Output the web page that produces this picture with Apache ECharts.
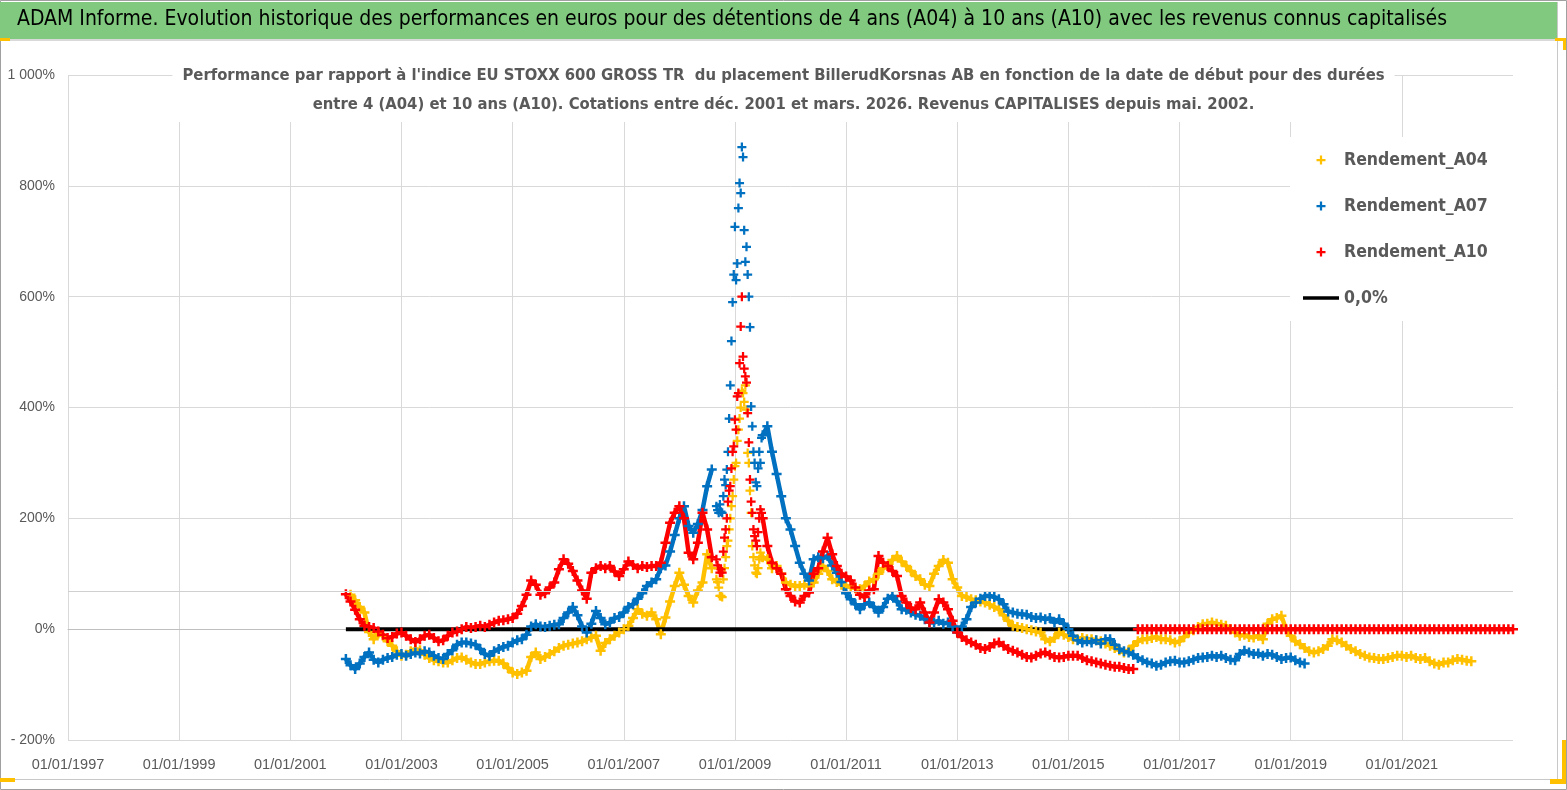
<!DOCTYPE html>
<html>
<head>
<meta charset="utf-8">
<title>BillerudKorsnas AB - Rendements A04 A07 A10</title>
<script src="https://cdn.jsdelivr.net/npm/echarts@6/dist/echarts.min.js"></script>
<style>
  html, body { margin: 0; padding: 0; background: #fff; }
  #chart { width: 1567px; height: 790px; }
</style>
</head>
<body>
<div id="chart"></div>
<script>
// x values are months counted from 01/01/1997, y values are performances in %

const xTickLabels = ['01/01/1997', '01/01/1999', '01/01/2001', '01/01/2003', '01/01/2005', '01/01/2007',
  '01/01/2009', '01/01/2011', '01/01/2013', '01/01/2015', '01/01/2017', '01/01/2019', '01/01/2021'];
const yTickLabels = ['- 200%', '0%', '200%', '400%', '600%', '800%', '1 000%'];
const seriesNames = ['Rendement_A04', 'Rendement_A07', 'Rendement_A10', '0,0%'];

// monthly values, the last one is dec. 2008
const a04Early = [
  62, 52, 40, 30, -5, -18, -8, -12, -22, -30,
  -40, -48, -46, -40, -36, -38, -46, -52, -56, -58,
  -60, -60, -56, -52, -51, -55, -60, -63, -63, -60,
  -58, -57, -57, -62, -70, -78, -81, -78, -75, -50,
  -42, -54, -50, -45, -40, -34, -30, -28, -26, -24,
  -22, -18, -15, -12, -39, -25, -18, -12, -6, 0,
  6, 20, 36, 28, 24, 30, 18, -9, 21, 50,
  78, 102, 80, 60, 48, 70, 84, 135, 110
];
const a07Early = [
  -54, -65, -72, -62, -50, -42, -55, -60, -55, -52,
  -50, -46, -45, -48, -45, -42, -44, -40, -42, -48,
  -52, -54, -45, -38, -28, -24, -24, -26, -28, -36,
  -45, -48, -40, -36, -32, -30, -24, -20, -18, -10,
  5, 9, 5, 4, 6, 8, 9, 20, 30, 40,
  25, 5, -6, 10, 33, 20, 9, 12, 20, 22,
  30, 40, 45, 55, 65, 78, 84, 90, 110, 115,
  140, 170, 200, 222, 186, 174, 190, 215, 258, 288
];
const a10Early = [
  63, 50, 35, 18, 6, 4, 2, -4, -10, -16,
  -14, -8, -6, -12, -18, -23, -18, -12, -10, -16,
  -22, -20, -12, -6, -4, 0, 4, 2, 4, 6,
  4, 8, 12, 15, 16, 18, 20, 28, 42, 62,
  88, 80, 62, 65, 75, 84, 108, 126, 118, 105,
  88, 70, 55, 102, 110, 114, 110, 114, 104, 96,
  108, 122, 116, 110, 114, 112, 114, 114, 120, 156,
  192, 210, 222, 200, 138, 126, 156, 210, 180, 130
];

// quarter-month values, sept. 2008 to june 2009
const a04Peak = [
  90, 85, 75, 60, 60, 58, 90, 110, 130, 150,
  160, 180, 200, 222, 240, 270, 294, 300, 340, 360,
  380, 400, 430, 426, 410, 440, 396, 318, 300, 250,
  210, 150, 130, 115, 102, 100, 110, 126, 138, 130
];
const a07Peak = [
  222, 215, 210, 225, 212, 210, 240, 270, 260, 288,
  320, 380, 440, 520, 590, 640, 726, 630, 660, 760,
  805, 787, 870, 852, 720, 663, 690, 640, 600, 545,
  402, 366, 320, 300, 265, 258, 290, 320, 300, 345
];
const a10Peak = [
  126, 115, 110, 102, 108, 102, 140, 165, 180, 200,
  230, 250, 258, 290, 320, 330, 378, 360, 420, 426,
  480, 546, 600, 492, 470, 456, 445, 390, 337, 270,
  230, 210, 180, 168, 160, 150, 175, 200, 216, 210
];

// monthly values from july 2009
const a04Late = [
  130, 126, 110, 114, 100, 84, 80, 78, 78, 80,
  78, 84, 100, 114, 105, 90, 85, 80, 78, 76,
  74, 72, 78, 86, 90, 100, 110, 114, 125, 132,
  122, 114, 105, 96, 90, 80, 78, 100, 114, 125,
  120, 90, 75, 60, 58, 54, 52, 50, 48, 44,
  40, 36, 25, 15, 6, 4, 2, 0, -2, -4,
  -6, -18, -22, -16, -6, -10, -14, -18, -18, -16,
  -18, -18, -20, -22, -26, -30, -34, -38, -42, -38,
  -30, -22, -18, -18, -16, -14, -18, -18, -20, -24,
  -22, -14, -6, -2, 4, 9, 10, 12, 10, 8,
  6, 0, -6, -12, -10, -14, -15, -12, -18, 10,
  18, 20, 24, 0, -12, -22, -27, -34, -40, -42,
  -40, -36, -30, -18, -20, -24, -30, -36, -40, -45,
  -48, -51, -52, -54, -54, -52, -50, -48, -48, -50,
  -48, -52, -54, -52, -58, -62, -64, -60, -60, -56,
  -54, -55, -57, -58
];
const a07Late = [
  350, 366, 320, 280, 240, 200, 180, 150, 120, 100,
  88, 126, 130, 128, 132, 115, 102, 85, 65, 54,
  45, 36, 45, 48, 40, 30, 40, 55, 60, 50,
  36, 35, 30, 26, 24, 18, 12, 12, 15, 10,
  12, 5, -6, 5, 18, 40, 48, 55, 60, 60,
  58, 54, 45, 32, 30, 28, 27, 26, 22, 20,
  21, 18, 20, 12, 18, 10, 0, -12, -20, -24,
  -22, -24, -20, -26, -18, -18, -28, -36, -40, -42,
  -46, -52, -56, -60, -62, -66, -64, -60, -58, -57,
  -60, -60, -58, -55, -52, -51, -50, -48, -50, -48,
  -52, -55, -56, -45, -39, -42, -45, -44, -48, -45,
  -46, -50, -54, -52, -51, -56, -60, -62
];
const a10Late = [
  200, 150, 120, 110, 100, 72, 60, 50, 48, 60,
  66, 100, 110, 140, 165, 135, 114, 100, 95, 88,
  75, 62, 58, 70, 72, 132, 120, 114, 105, 96,
  60, 48, 38, 36, 48, 30, 12, 30, 54, 48,
  36, 15, -6, -14, -20, -24, -28, -34, -36, -32,
  -26, -24, -30, -36, -39, -42, -46, -50, -51, -48,
  -44, -42, -46, -50, -51, -50, -48, -48, -48, -52,
  -56, -58, -60, -62, -64, -66, -68, -68, -70, -72,
  -72
];
// A10 reported at 0 from april 2016
const a10Zero = [
  0, 0, 0, 0, 0, 0, 0, 0, 0, 0,
  0, 0, 0, 0, 0, 0, 0, 0, 0, 0,
  0, 0, 0, 0, 0, 0, 0, 0, 0, 0,
  0, 0, 0, 0, 0, 0, 0, 0, 0, 0,
  0, 0, 0, 0, 0, 0, 0, 0, 0, 0,
  0, 0, 0, 0, 0, 0, 0, 0, 0, 0,
  0, 0, 0, 0, 0, 0, 0, 0, 0, 0,
  0, 0, 0, 0, 0, 0, 0, 0, 0, 0,
  0, 0
];
const zeroLine = [[60, 0], [231, 0]];
const oddGridLine = 68.5;

const PEAK_START = 140;
const LATE_START = 150;
const ZERO_START = 231;

function segment(start, step, values) {
    return values.map((v, i) => [start + i * step, v]);
}

// early and late parts drawn as a band, the 2009 spike as loose crosses
function band(early, late, tail) {
    let data = [].concat(
        segment(PEAK_START - early.length, 1, early),
        [[PEAK_START, '-']],
        segment(LATE_START, 1, late)
    );
    if (tail) {
        data = data.concat([[ZERO_START - 0.5, '-']], segment(ZERO_START, 1, tail));
    }
    return data;
}

const plus = 'path://M3,0H5V3H8V5H5V8H3V5H0V3H3Z';
const narrow = "'Liberation Sans Narrow', 'DejaVu Sans Condensed', 'Liberation Sans', sans-serif";
const grey = '#595959';

function bandSeries(name, data, color) {
    return {
        name: name,
        type: 'line',
        data: data,
        symbol: plus,
        symbolSize: 10,
        showSymbol: true,
        itemStyle: { color: color },
        lineStyle: { color: color, width: 4.5 },
        emphasis: { disabled: true }
    };
}

function spikeSeries(name, values, color) {
    return {
        name: name,
        type: 'scatter',
        data: segment(PEAK_START, 0.25, values),
        symbol: plus,
        symbolSize: 9,
        itemStyle: { color: color, opacity: 1 },
        emphasis: { disabled: true }
    };
}

const chart = echarts.init(document.getElementById('chart'));

const s04 = bandSeries(seriesNames[0], band(a04Early, a04Late), '#FFC000');
s04.markLine = {
    silent: true,
    symbol: 'none',
    label: { show: false },
    lineStyle: { color: '#d0d0d0', type: 'solid', width: 1 },
    data: [{ yAxis: oddGridLine }]
};

chart.setOption({
    animation: false,
    backgroundColor: '#fff',
    textStyle: { fontFamily: "'Liberation Sans', sans-serif" },
    graphic: [
        { type: 'rect', shape: { x: 0.5, y: 0.5, width: 1566, height: 789 },
          style: { fill: 'none', stroke: '#a0a0a0', lineWidth: 1 } },
        { type: 'rect', shape: { x: 0, y: 2, width: 1557, height: 37 }, style: { fill: '#80c97f' } },
        { type: 'rect', shape: { x: 0, y: 39, width: 1557, height: 2 }, style: { fill: '#d9d9d9' } },
        { type: 'line', shape: { x1: 1557.5, y1: 2, x2: 1557.5, y2: 779.5 }, style: { stroke: '#c8c8c8', lineWidth: 1 } },
        { type: 'line', shape: { x1: 0, y1: 779.5, x2: 1557.5, y2: 779.5 }, style: { stroke: '#c8c8c8', lineWidth: 1 } },
        { type: 'rect', shape: { x: 0, y: 38, width: 10, height: 3 }, style: { fill: '#FFC000' } },
        { type: 'rect', shape: { x: 1555, y: 38, width: 11, height: 3 }, style: { fill: '#FFC000' } },
        { type: 'rect', shape: { x: 1563, y: 38, width: 3, height: 12 }, style: { fill: '#FFC000' } },
        { type: 'rect', shape: { x: 0, y: 778, width: 15, height: 4 }, style: { fill: '#FFC000' } },
        { type: 'rect', shape: { x: 1562, y: 740, width: 4, height: 44 }, style: { fill: '#FFC000' } },
        { type: 'rect', shape: { x: 1550, y: 779, width: 16, height: 5 }, style: { fill: '#FFC000' } }
    ],
    title: [
        {
            text: 'ADAM Informe. Evolution historique des performances en euros pour des détentions de 4 ans (A04) à 10 ans (A10) avec les revenus connus capitalisés',
            left: 17, top: 9, padding: 0,
            textStyle: { fontSize: 21, fontWeight: 'normal', color: '#000', fontFamily: narrow }
        },
        {
            text: "Performance par rapport à l'indice EU STOXX 600 GROSS TR  du placement BillerudKorsnas AB en fonction de la date de début pour des durées\nentre 4 (A04) et 10 ans (A10). Cotations entre déc. 2001 et mars. 2026. Revenus CAPITALISES depuis mai. 2002.",
            left: 'center', top: 58, padding: [3, 10],
            backgroundColor: '#fff',
            textStyle: { fontSize: 16.5, lineHeight: 29, fontWeight: 'bold', color: grey, fontFamily: narrow }
        }
    ],
    legend: {
        orient: 'vertical',
        left: 1290, top: 137,
        padding: [13, 28, 13, 13],
        backgroundColor: '#fff',
        itemWidth: 36, itemHeight: 9, itemGap: 26,
        selectedMode: false,
        textStyle: { fontSize: 17.5, lineHeight: 20, fontWeight: 'bold', color: grey, fontFamily: narrow },
        data: [
            { name: seriesNames[0], icon: plus },
            { name: seriesNames[1], icon: plus },
            { name: seriesNames[2], icon: plus },
            { name: seriesNames[3], icon: 'path://M0,0H40V4H0Z' }
        ]
    },
    grid: { left: 68, right: 54, top: 75, bottom: 50, containLabel: false },
    xAxis: {
        type: 'value',
        min: 0, max: 312, interval: 24,
        axisLine: { show: true, lineStyle: { color: '#bfbfbf' } },
        axisTick: { show: false },
        axisLabel: {
            margin: 17, fontSize: 14.5, color: grey, showMaxLabel: false,
            formatter: v => xTickLabels[v / 24] || ''
        },
        splitLine: { show: true, showMaxLine: false, lineStyle: { color: '#d9d9d9' } }
    },
    yAxis: {
        type: 'value',
        min: -200, max: 1000, interval: 200,
        axisLine: { show: false },
        axisTick: { show: false },
        axisLabel: {
            margin: 13, fontSize: 14, color: grey,
            formatter: v => yTickLabels[(v + 200) / 200]
        },
        splitLine: {
            show: true,
            lineStyle: { color: ['#d9d9d9', 'rgba(0,0,0,0)', '#d9d9d9', '#d9d9d9', '#d9d9d9', '#d9d9d9', '#d9d9d9'] }
        }
    },
    series: [
        s04,
        spikeSeries(seriesNames[0], a04Peak, '#FFC000'),
        bandSeries(seriesNames[1], band(a07Early, a07Late), '#0070C0'),
        spikeSeries(seriesNames[1], a07Peak, '#0070C0'),
        bandSeries(seriesNames[2], band(a10Early, a10Late, a10Zero), '#FF0000'),
        spikeSeries(seriesNames[2], a10Peak, '#FF0000'),
        {
            name: seriesNames[3],
            type: 'line',
            data: zeroLine,
            symbol: 'none',
            itemStyle: { color: '#000' },
            lineStyle: { color: '#000', width: 4 },
            emphasis: { disabled: true }
        }
    ]
});
</script>
</body>
</html>
